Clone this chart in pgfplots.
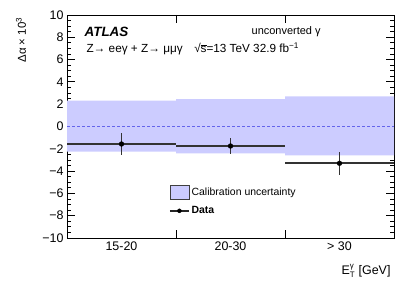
\documentclass[border=0pt]{standalone}
\usepackage{pgfplots}
\pgfplotsset{compat=1.18}
\usepackage{fontspec}
\setmainfont{Liberation Sans}
\definecolor{band}{RGB}{204,204,255}
\definecolor{dashblue}{RGB}{100,100,235}
\begin{document}
\begin{tikzpicture}
\useasboundingbox (0,0) rectangle (415bp,283bp);
\begin{axis}[
  at={(67bp,45bp)}, anchor=south west,
  scale only axis, width=327bp, height=223bp,
  xmin=0, xmax=3, ymin=-10, ymax=10,
  xtick={1,2}, xticklabels={,},
  extra x ticks={0.5,1.5,2.5},
  extra x tick labels={15-20,20-30,{> 30}},
  extra x tick style={major tick length=0pt},
  ytick={-10,-8,...,10},
  yticklabels={−10,−8,−6,−4,−2,0,2,4,6,8,10},
  minor y tick num=3,
  major tick length=8bp, minor tick length=4bp,
  tick style={black, line width=0.8bp},
  axis line style={line width=0.8bp},
  ticklabel style={font=\fontsize{12.5}{14}\selectfont},
  xlabel={E$^{\mbox{\fontsize{8}{9}\selectfont γ}}_{\mbox{\fontsize{8}{9}\selectfont T}}$ [GeV]},
  xlabel style={at={(rel axis cs:1,0)}, anchor=east, yshift=-33bp, font=\fontsize{12.5}{14}\selectfont},
  ylabel={Δα × 10\textsuperscript{3}},
  ylabel style={at={(rel axis cs:-0.1407,1.0045)}, anchor=east, font=\fontsize{11.5}{14}\selectfont},
  legend style={at={(rel axis cs:0.312,0.24)}, anchor=north west, draw=none, fill=none,
     font=\fontsize{10.5}{12}\selectfont, row sep=5bp, inner sep=0pt,
     nodes={inner sep=2bp}},
  legend cell align=left,
]
\addplot[fill=band, draw=none, legend image code/.code={\draw[fill=band,draw=black!75,line width=0.8bp] (0bp,-7bp) rectangle (19bp,7bp);}]
 coordinates {(0,-2.26)(1,-2.26)(1,-2.4)(2,-2.4)(2,-2.6)(3,-2.6)(3,2.7)(2,2.7)(2,2.45)(1,2.45)(1,2.33)(0,2.33)};
\addlegendentry{Calibration uncertainty}
\addplot[dashblue, line width=0.8bp, dash pattern=on 3bp off 2bp, forget plot] coordinates {(0,0)(3,0)};
\addplot[black, only marks, mark=*, mark size=2.4bp,
  legend image code/.code={\draw[black!85,line width=1.4bp] (0bp,0bp) -- (19bp,0bp); \fill[black] (9.5bp,0bp) circle (2bp);},
  error bars/.cd, x dir=both, x explicit, y dir=both, y explicit,
  error mark=none, error bar style={line width=1.6bp, black!80}]
  coordinates {(0.5,-1.57) +- (0.5,1.0) (1.5,-1.75) +- (0.5,0.73) (2.5,-3.3) +- (0.5,1.05)};
\addlegendentry{\textbf{Data}}
\node[anchor=west, font=\fontsize{13.5}{15}\selectfont\bfseries\itshape] at (rel axis cs:0.043,0.924) {ATLAS};
\node[anchor=west, font=\fontsize{11}{13}\selectfont] at (rel axis cs:0.554,0.924) {unconverted γ};
\node[anchor=west, font=\fontsize{11.8}{13}\selectfont] at (rel axis cs:0.049,0.848) {Z→ eeγ + Z→ μμγ\quad √\kern-0.3pt$\overline{\mbox{s}}$=13 TeV 32.9 fb\textsuperscript{−1}};
\end{axis}
\end{tikzpicture}
\end{document}
